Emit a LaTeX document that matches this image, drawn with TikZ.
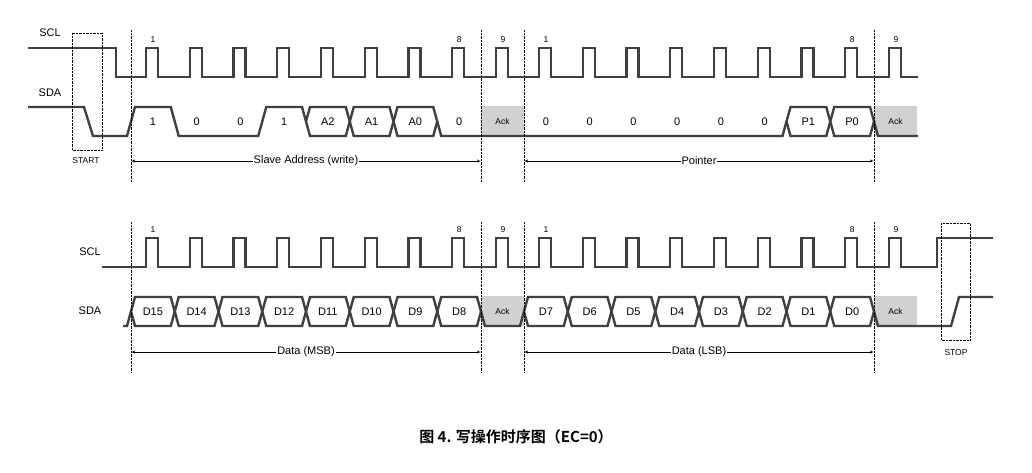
\documentclass[tikz,border=0pt]{standalone}
\usepackage{fontspec}
\setmainfont{Liberation Sans}
\newfontfamily\cjk{Noto Sans CJK SC}[BoldFont={Noto Sans CJK SC Bold}]
\usepackage{tikz}
\usetikzlibrary{arrows,positioning,calc}
\tikzstyle{sig}=[draw=black!75, line width=2.4pt, line join=miter]
\tikzstyle{lbl}=[font=\fontsize{11}{12}\selectfont, inner sep=0pt]
\tikzstyle{num}=[font=\fontsize{8.5}{9}\selectfont, inner sep=0pt]
\tikzstyle{ack}=[fill=black!18, draw=none]
\tikzstyle{guide}=[draw, densely dotted, thin]
\tikzstyle{span}=[draw, thin, <->, >=latex']
\newcommand{\cw}{43.75}
% bus cell: left x, high y, text, name
\newcommand{\bus}[4]{%
  \draw[sig] (#1,#2+14.5) -- ++(4,-14.5) -- ({#1+\cw-4},#2) -- ({#1+\cw},#2+14.5)
    -- ({#1+\cw-4},#2+29) -- ({#1+4},#2+29) -- cycle;
  \node[lbl] (#4) at ({#1+\cw/2},#2+14.5) {#3};}
\begin{document}
\begin{tikzpicture}[x=1pt,y=-1pt]
  \useasboundingbox (0,0) rectangle (1032,473);

  % signal names
  \node[lbl] (sclA) at (50,33) {SCL};
  \node[lbl] (sdaA) at (50,93) {SDA};
  \node[lbl] (sclB) at (90,252) {SCL};
  \node[lbl] (sdaB) at (90,311) {SDA};

  % ack cells
  \foreach \x in {481,874} {
    \fill[ack] (\x,106) rectangle ++(43,30);
    \fill[ack] (\x,296) rectangle ++(43,30);
    \node[num] at ({\x+21.5},121.5) {Ack};
    \node[num] at ({\x+21.5},311.5) {Ack};
  }

  % clock lines
  \draw[sig] (28,48) -- (116,48) -- (116,77)
    \foreach \g in {131,524} {\foreach \i in {0,...,8} {
      -- ({\g+\i*\cw+15},77) -- ++(0,-29) -- ++(12,0) -- ++(0,29)}}
    -- (918,77);
  \draw[sig] (102,267)
    \foreach \g in {131,524} {\foreach \i in {0,...,8} {
      -- ({\g+\i*\cw+15},267) -- ++(0,-29) -- ++(12,0) -- ++(0,29)}}
    -- (937,267) -- (937,238) -- (993,238);

  % clock numbers
  \foreach \g in {131,524} {
    \foreach \i/\t in {0/1,7/8,8/9} {
      \node[num] at ({\g+\i*\cw+22},40) {\t};
      \node[num] at ({\g+\i*\cw+22},230) {\t};
    }
  }

  % data line, address and pointer
  \draw[sig] (28,107) -- (84,107) -- (93,136) -- (127,136) -- (135,107)
    -- (170.75,107) -- (178.75,136) -- (258.25,136) -- (266.25,107)
    -- (302,107) -- (306,121.5);
  \bus{306}{107}{A2}{a2}
  \bus{349.75}{107}{A1}{a1}
  \bus{393.5}{107}{A0}{a0}
  \draw[sig] (437.25,121.5) -- (441.25,136) -- (782.5,136) -- (786.5,121.5);
  \bus{786.5}{107}{P1}{p1}
  \bus{830.25}{107}{P0}{p0}
  \draw[sig] (874,121.5) -- (878,136) -- (918,136);
  \foreach \i/\t in {0/1,1/0,2/0,3/1,7/0} {
    \node[lbl] at ({131+\i*\cw+\cw/2},121.5) {\t};
  }
  \foreach \i in {0,...,5} {
    \node[lbl] at ({524+\i*\cw+\cw/2},121.5) {0};
  }

  % data line, data bytes
  \draw[sig] (123,326) -- (127,326) -- (131,311.5);
  \foreach \i/\t in {0/D15,1/D14,2/D13,3/D12,4/D11,5/D10,6/D9,7/D8} {
    \bus{131+\i*\cw}{297}{\t}{d\i}
  }
  \draw[sig] (481,311.5) -- (485,326) -- (520,326) -- (524,311.5);
  \foreach \i/\t in {0/D7,1/D6,2/D5,3/D4,4/D3,5/D2,6/D1,7/D0} {
    \bus{524+\i*\cw}{297}{\t}{e\i}
  }
  \draw[sig] (874,311.5) -- (878,326) -- (951,326) -- (959,297) -- (993,297);

  % guides
  \foreach \x in {131,481,524,874} {
    \draw[guide] (\x,30) -- (\x,182);
    \draw[guide] (\x,222) -- (\x,372);
  }
  \draw[guide] (72,33) rectangle (102,150);
  \draw[guide] (941,223) rectangle (970,340);
  \node[num] (start) at (86,161) {START};
  \node[num] (stop) at (956,353) {STOP};

  % spans
  \coordinate (s1) at (131,161); \coordinate (s2) at (481,161);
  \coordinate (s3) at (524,161); \coordinate (s4) at (874,161);
  \coordinate (t1) at (131,352); \coordinate (t2) at (481,352);
  \coordinate (t3) at (524,352); \coordinate (t4) at (874,352);
  \path[span] (s1) -- node[lbl, fill=white, inner sep=1pt]{Slave Address (write)} (s2);
  \path[span] (s3) -- node[lbl, fill=white, inner sep=1pt]{Pointer} (s4);
  \path[span] (t1) -- node[lbl, fill=white, inner sep=1pt]{Data (MSB)} (t2);
  \path[span] (t3) -- node[lbl, fill=white, inner sep=1pt]{Data (LSB)} (t4);

  % caption
  \node[font=\cjk\bfseries\fontsize{15}{16}\selectfont] (cap) at (516,437) {图 4. 写操作时序图（EC=0）};
\end{tikzpicture}
\end{document}
